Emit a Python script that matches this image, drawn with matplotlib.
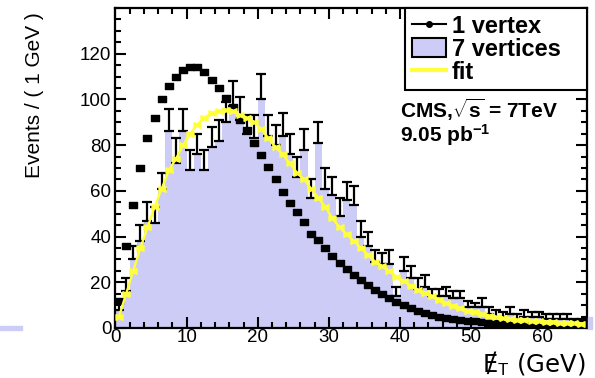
import numpy as np
import matplotlib
matplotlib.use("Agg")
import matplotlib.pyplot as plt
from matplotlib.lines import Line2D
from matplotlib.patches import Patch, Rectangle
from matplotlib.path import Path
from matplotlib.ticker import MultipleLocator

# MET distribution, 1 GeV bins from 0 to 66 GeV
bin_edges = np.arange(0, 67, 1)

# events with 7 reconstructed vertices (filled histogram) and upper stat errors
seven_vtx = [8, 16, 30, 38, 47, 46, 61, 86, 72, 86,
             69, 76, 69, 79, 82, 90, 97, 91, 85, 83,
             100, 84, 80, 84, 76, 66, 78, 57, 81, 61,
             58, 49, 56, 54, 40, 36, 29, 28, 28, 14,
             25, 22, 17, 18, 14, 14, 14, 13, 13, 9,
             9, 9, 6, 5, 5, 6, 4, 5, 5, 5,
             4, 4, 4, 4, 3, 3]
seven_err = [4, 6, 6, 7, 8, 7, 7, 10, 11, 10,
             9, 9, 9, 9, 9, 9, 11, 10, 8, 10,
             11, 9, 9, 10, 9, 9, 9, 8, 9, 9,
             8, 8, 8, 8, 7, 6, 5, 5, 6, 4,
             6, 5, 5, 5, 3, 3, 4, 3, 3, 3,
             2, 4, 3, 3, 2, 3, 2, 3, 2, 2,
             2, 2, 2, 2, 1, 1]

# events with a single vertex, normalised to the same area
one_vtx = [12, 36, 54, 70, 83, 92, 100, 106, 110, 113,
           114, 114, 112, 108.5, 105, 100.6, 96.7, 91, 86.6, 81,
           75.7, 70.6, 65, 59.6, 54.8, 50.7, 46.3, 41, 38.5, 35,
           31.6, 28.6, 25.8, 23.2, 21, 18.8, 16.6, 14.9, 13, 11.5,
           10, 8.6, 7.4, 6.4, 5.7, 5, 4.4, 3.9, 3.5, 3.2,
           2.9, 2.6, 2.4, 2.2, 2.0, 1.8, 1.6, 1.5, 1.4, 1.3,
           1.2, 1.1, 1.0, 0.9, 0.9, 0.8]

# fitted shape for the 7-vertex sample
fit_vals = [5, 15, 25, 35, 44, 53, 61, 69, 74, 80,
            85, 89, 92, 94, 95, 95.5, 95, 93, 92, 90,
            87, 83, 79, 76, 72, 68, 65, 61, 57, 53,
            48, 44, 41, 38, 35, 32, 29, 27, 25, 22.5,
            20.5, 18.5, 16.8, 15.2, 13.8, 12.4, 11, 9.8, 8.6, 7.6,
            6.8, 6.0, 5.4, 4.8, 4.3, 3.9, 3.6, 3.3, 3.1, 2.9,
            2.7, 2.5, 2.3, 2.2, 2.0, 1.9]

centers = bin_edges[:-1] + 0.5
lavender = "#ccccf7"
yellow = "#ffff3a"

plt.rcParams["font.family"] = ["Liberation Sans", "DejaVu Sans"]
plt.rcParams["mathtext.fontset"] = "custom"
plt.rcParams["mathtext.rm"] = "Liberation Sans"
plt.rcParams["mathtext.bf"] = "Liberation Sans:bold"
plt.rcParams["mathtext.it"] = "Liberation Sans:italic"

# flat rectangle for the 1-vertex points, pinched box for the fit points
rect_marker = Path([(-1, -0.7), (1, -0.7), (1, 0.7), (-1, 0.7), (-1, -0.7)],
                   [Path.MOVETO, Path.LINETO, Path.LINETO, Path.LINETO, Path.CLOSEPOLY])
bowtie = Path([(-1, -0.8), (0, -0.35), (1, -0.8), (1, 0.8), (0, 0.35), (-1, 0.8), (-1, -0.8)],
              [Path.MOVETO] + [Path.LINETO] * 5 + [Path.CLOSEPOLY])

fig = plt.figure(figsize=(5.95, 3.78), dpi=100)
ax = fig.add_axes([0.1941, 0.1323, 0.7925, 0.8465])

ax.stairs(seven_vtx, bin_edges, fill=True, color=lavender, linewidth=0, zorder=1)
ax.errorbar(centers, seven_vtx, yerr=[np.zeros(len(seven_err)), seven_err],
            fmt="none", ecolor="black", elinewidth=1.6, capsize=3.4, capthick=1.6, zorder=2)
ax.plot(centers, one_vtx, ls="none", marker=rect_marker, ms=5.2,
        color="black", zorder=3)
ax.plot(centers, fit_vals, color=yellow, lw=1.7, marker=bowtie, ms=5,
        mec=yellow, mfc=yellow, zorder=4)

ax.xaxis.set_major_locator(MultipleLocator(10))
ax.xaxis.set_minor_locator(MultipleLocator(2))
ax.set_yticks(range(0, 121, 20))
ax.yaxis.set_minor_locator(MultipleLocator(5))
ax.set_xlim(0, 66.3)
ax.set_ylim(0, 140)
ax.tick_params(which="both", direction="in", top=True, right=True,
               labelsize=13.5, width=1.5, colors="black")
ax.tick_params(which="major", length=8)
ax.tick_params(which="minor", length=4.5)
ax.tick_params(axis="x", pad=1)
ax.tick_params(axis="y", pad=3)
for sp in ax.spines.values():
    sp.set_linewidth(1.6)

fig.text(0.058, 0.968, "Events / ( 1 GeV )", rotation=90, ha="center", va="top", fontsize=15)
ax.text(0.997, -0.066, "Ɇ$_{\\mathrm{T}}$ (GeV)", transform=ax.transAxes, ha="right", va="top",
        fontsize=17.5, family=["DejaVu Sans"])

handles = [
    Line2D([0], [0], color="black", lw=1.5, marker="o", ms=4),
    Patch(facecolor=lavender, edgecolor="black", linewidth=1.5),
    Line2D([0], [0], color=yellow, lw=3),
]
leg = ax.legend(handles, ["1 vertex", "7 vertices   ", "fit"], loc="upper right",
                bbox_to_anchor=(1.0, 1.0), frameon=True, fancybox=False,
                edgecolor="black", framealpha=1, borderaxespad=0,
                prop={"weight": "bold", "size": 17}, handlelength=1.45,
                handleheight=0.9, labelspacing=0.0, borderpad=0.28,
                handletextpad=0.25)
leg.get_frame().set_linewidth(1.5)
leg.set_zorder(6)

ax.text(0.603, 0.681, r"CMS,$\sqrt{\mathbf{s}}$ = 7TeV", transform=ax.transAxes,
        fontsize=15, fontweight="bold", va="center")
ax.text(0.603, 0.603, r"9.05 pb$^{\mathbf{-1}}$", transform=ax.transAxes,
        fontsize=15, fontweight="bold", va="center")

# stray pieces of the histogram fill outside the frame
fig.patches.append(Rectangle((0.0, 1 - 330 / 378), 22 / 595, 4 / 378,
                             transform=fig.transFigure, color=lavender, zorder=0))
fig.patches.append(Rectangle((588 / 595, 1 - 329 / 378), 4 / 595, 12 / 378,
                             transform=fig.transFigure, color=lavender, zorder=0))

fig.savefig("out.png", dpi=100)
